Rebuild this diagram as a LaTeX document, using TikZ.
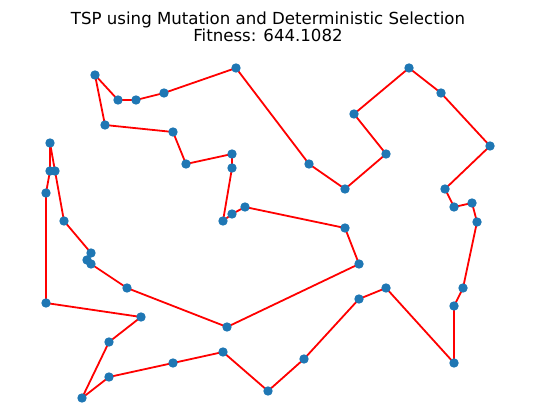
\documentclass[tikz,border=0pt]{standalone}
\usepackage{fontspec}
\setmainfont{DejaVu Sans}
\usepackage{xcolor}
\definecolor{tblue}{HTML}{1F77B4}
\definecolor{tred}{RGB}{255,0,0}

\begin{document}
\begin{tikzpicture}[x=1pt,y=-1pt]
\useasboundingbox (0,0) rectangle (537,419);

% cities, in tour order
\foreach \px/\py [count=\i] in {236/68, 164/93, 136/100, 118/100, 95/75, 105/125,
  173/132, 186/164, 232/154, 232/168, 223/221, 232/214, 245/207, 345/228,
  359/264, 227/327, 127/288, 91/264, 87/260, 91/253, 64/221, 55/171, 50/143,
  50/171, 46/193, 46/303, 141/317, 109/342, 82/398, 109/377, 173/363, 223/352,
  268/391, 304/359, 359/299, 386/288, 454/363, 454/306, 463/288, 477/222,
  472/203, 454/207, 445/189, 490/146, 441/93, 409/68, 354/114, 386/154,
  345/189, 309/164}{
  \coordinate (c\i) at (\px,\py);
}

\draw[color=tred, line width=1.8, line join=round] (c1) \foreach \i in {2,...,50}{ -- (c\i) } -- cycle;

\foreach \i in {1,...,50}
  \fill[color=tblue] (c\i) circle (4.7);

\node[align=center, inner sep=0, font=\fontsize{16.6}{14.8}\selectfont] (title) at (268,27)
  {TSP using Mutation and Deterministic Selection\\Fitness: 644.1082};

\end{tikzpicture}
\end{document}
